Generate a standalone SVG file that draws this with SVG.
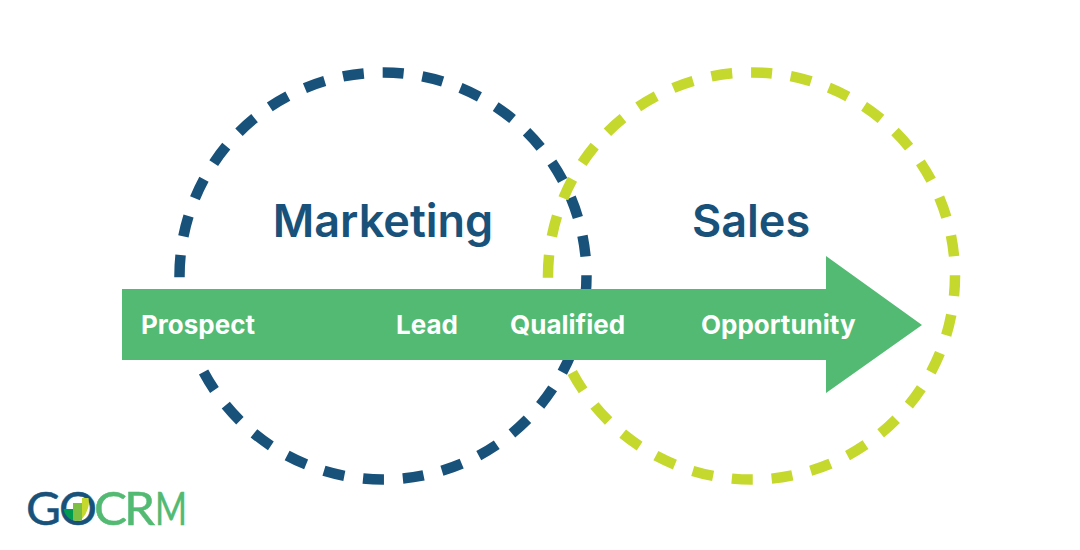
<svg xmlns="http://www.w3.org/2000/svg" width="1080" height="550" viewBox="0 0 1080 550">
<defs><clipPath id="o-clip"><circle cx="77.5" cy="507" r="14"/></clipPath></defs>
<style>
.ring{fill:none;stroke-width:10.5;stroke-dasharray:21 18.9}
.head{font-family:Inter,"Liberation Sans",sans-serif;font-size:45px;font-weight:600;fill:#18527a;text-anchor:middle}
.lab{font-family:Inter,"Liberation Sans",sans-serif;font-size:26px;font-weight:700;fill:#fff}
.logo{font-family:Lato,"Liberation Sans",sans-serif;font-size:47px;stroke-width:.5}
.n{fill:#18527a;stroke:#18527a}
.g{fill:#52ba72;stroke:#52ba72}
</style>
<rect width="1080" height="550" fill="#fff"/>
<g id="connectors">
<path id="marketing-ring" class="ring" stroke="#18527a" d="M179.5 276A203.5 203.5 0 1 1 586.5 276A203.5 203.5 0 1 1 179.5 276Z"/>
<path id="sales-ring" class="ring" stroke="#c5d82e" d="M548 276A203.5 203.5 0 1 1 955 276A203.5 203.5 0 1 1 548 276Z"/>
<path id="funnel-arrow" fill="#52ba72" d="M122 289H826V256L922 325L826 393V360H122Z"/>
</g>
<g id="marketing"><text class="head" x="383" y="237">Marketing</text></g>
<g id="sales"><text class="head" x="751" y="237">Sales</text></g>
<g id="prospect"><text class="lab" x="141" y="334">Prospect</text></g>
<g id="lead"><text class="lab" x="396" y="334">Lead</text></g>
<g id="qualified"><text class="lab" x="510" y="334">Qualified</text></g>
<g id="opportunity"><text class="lab" x="701" y="334">Opportunity</text></g>
<g id="logo">
<text class="logo n" x="26" y="525" textLength="35" lengthAdjust="spacingAndGlyphs">G</text>
<text class="logo n" x="59" y="525" textLength="38" lengthAdjust="spacingAndGlyphs">O</text>
<g clip-path="url(#o-clip)">
<rect x="63" y="509" width="10" height="14" fill="#009b4e"/>
<rect x="73" y="503" width="9" height="20" fill="#7dbf42"/>
</g>
<path d="M82 498h6.500q2 11-6.500 21z" fill="#c5d82e"/>
<text class="logo g" x="94" y="525" textLength="33" lengthAdjust="spacingAndGlyphs">C</text>
<text class="logo g" x="124" y="525" textLength="31" lengthAdjust="spacingAndGlyphs">R</text>
<text class="logo g" x="155" y="525" textLength="32" lengthAdjust="spacingAndGlyphs">M</text>
</g>
</svg>
